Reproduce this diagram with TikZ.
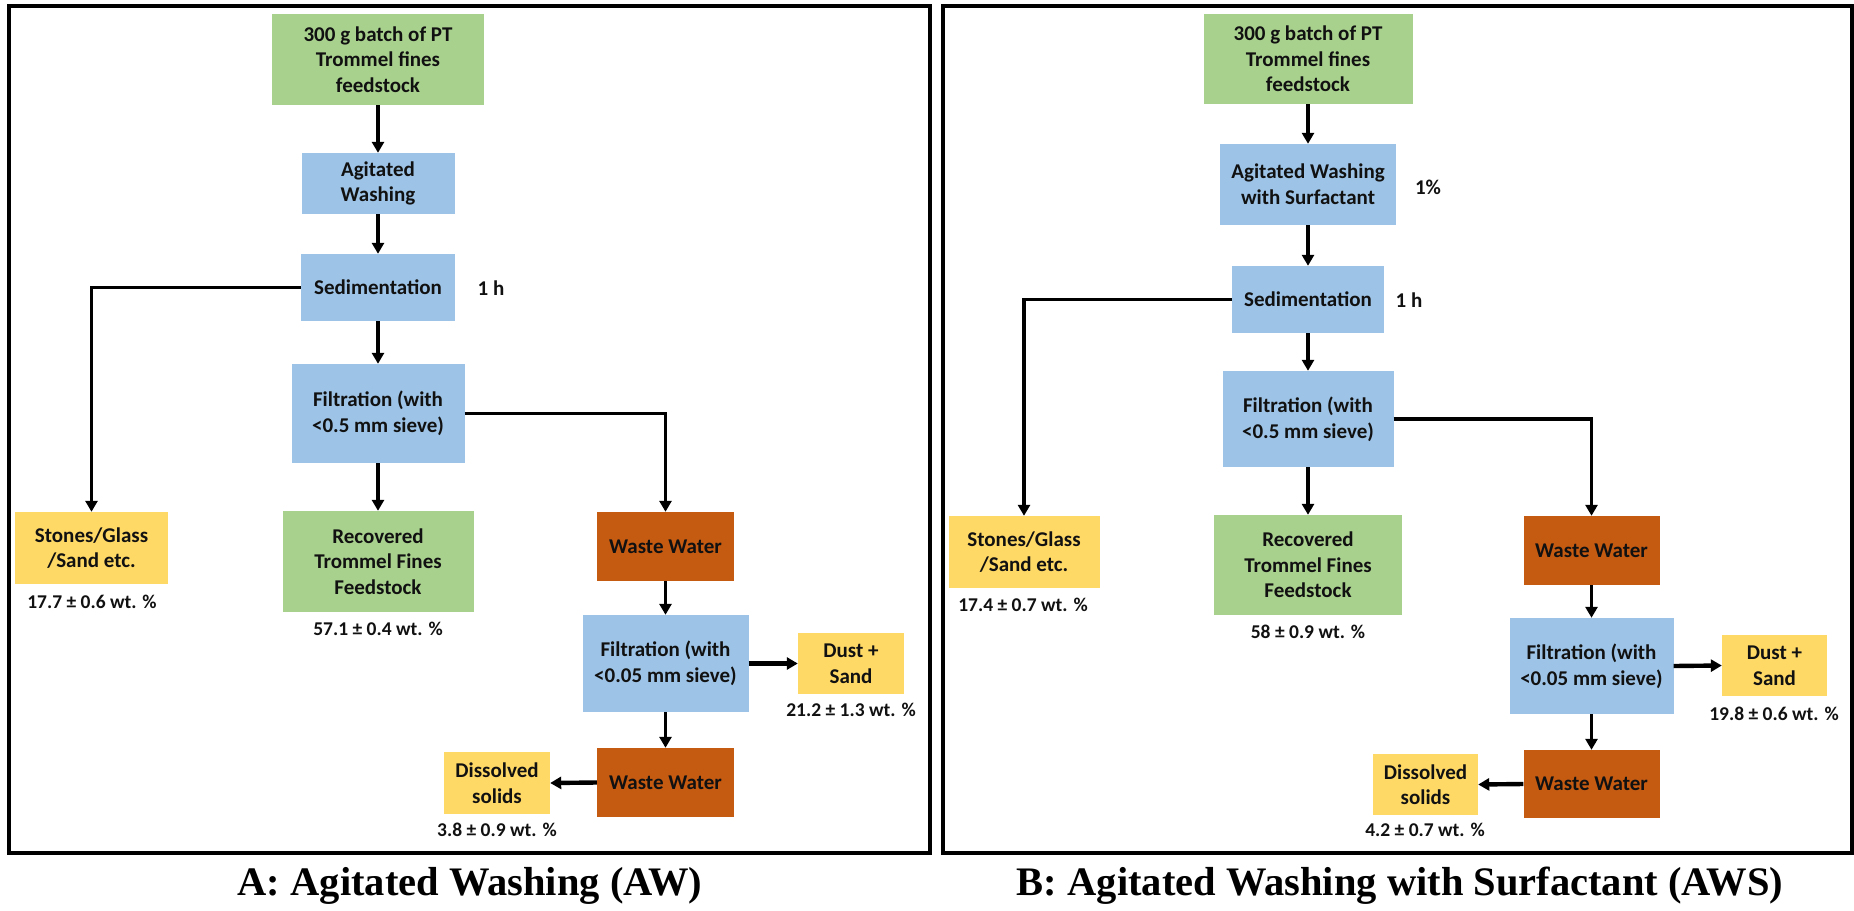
\documentclass[tikz,border=0pt]{standalone}
\usepackage{fontspec}
\setmainfont{Carlito}
\newfontfamily\titlefont{Liberation Serif}
\usetikzlibrary{arrows.meta}
\definecolor{cgreen}{HTML}{A9D18E}
\definecolor{cblue}{HTML}{9DC3E6}
\definecolor{cyellow}{HTML}{FFD966}
\definecolor{corange}{HTML}{C55A11}
\definecolor{ctext}{HTML}{111111}
\begin{document}
\begin{tikzpicture}[x=1pt,y=-1pt,
  box/.style={inner sep=0pt, align=center, text=ctext,
    font=\bfseries\fontsize{21}{25.6}\selectfont},
  sz/.style 2 args={minimum width=#1pt, minimum height=#2pt},
  gbox/.style={box, fill=cgreen},
  bbox/.style={box, fill=cblue},
  ybox/.style={box, fill=cyellow},
  obox/.style={box, fill=corange},
  wt/.style={inner sep=0pt, text=ctext, font=\bfseries\fontsize{19.5}{23}\selectfont},
  note/.style={inner sep=0pt, text=ctext, font=\bfseries\fontsize{21}{25}\selectfont},
  ttl/.style={inner sep=0pt, font=\titlefont\bfseries\fontsize{40.5}{48}\selectfont},
  arr/.style={line width=3.6pt, line join=miter, -{Triangle[length=11pt,width=12pt]}},
  harr/.style={arr, line width=4.4pt},
  frame/.style={line width=3.5pt}
]
\useasboundingbox (0,0) rectangle (1854,910);

% ---------- Panel A ----------
\draw[frame] (9,6) rectangle (930,853);
\node[gbox, sz={212}{91}] (gA) at (378,59.5) {300 g batch of PT\\Trommel fines\\feedstock};
\node[bbox, sz={153}{61}] (awA) at (378,183.5) {Agitated\\Washing};
\node[bbox, sz={154}{67}] (sedA) at (378,287.5) {Sedimentation};
\node[note] (hA) at (491,288) {1 h};
\node[bbox, sz={173}{99}] (filA) at (378,413.5) {Filtration (with\\<0.5 mm sieve)};
\node[ybox, sz={153}{72}] (stA) at (91.5,548) {Stones/Glass\\/Sand etc.};
\node[wt] (stAw) at (92,602) {17.7 ± 0.6 wt. \%};
\node[gbox, sz={191}{101}] (recA) at (378,561.5) {Recovered\\Trommel Fines\\Feedstock};
\node[wt] (recAw) at (378,629) {57.1 ± 0.4 wt. \%};
\node[obox, sz={137}{69}] (ww1A) at (665.5,546.5) {Waste Water};
\node[bbox, sz={166}{97}] (fil2A) at (665.5,663.5) {Filtration (with\\<0.05 mm sieve)};
\node[ybox, sz={106}{61}] (dustA) at (851,663.5) {Dust +\\Sand};
\node[wt] (dustAw) at (851,710) {21.2 ± 1.3 wt. \%};
\node[obox, sz={137}{69}] (ww2A) at (665.5,782.5) {Waste Water};
\node[ybox, sz={106}{62}] (disA) at (497,783) {Dissolved\\solids};
\node[wt] (disAw) at (497,830) {3.8 ± 0.9 wt. \%};
\node[ttl] (tA) at (470,886) {A: Agitated Washing (AW)};

\draw[arr] (gA) -- (awA);
\draw[arr] (awA) -- (sedA);
\draw[arr] (sedA) -- (filA);
\draw[arr] (sedA.west) -| (stA.north);
\draw[arr] (filA) -- (recA);
\draw[arr] (filA.east) -| (ww1A.north);
\draw[arr] (ww1A) -- (fil2A);
\draw[harr] (fil2A.east) -- (dustA.west);
\draw[arr] (fil2A) -- (ww2A);
\draw[harr] (ww2A.west) -- (disA.east);

% ---------- Panel B ----------
\draw[frame] (943,6) rectangle (1852,853);
\node[gbox, sz={209}{90}] (gB) at (1308,59) {300 g batch of PT\\Trommel fines\\feedstock};
\node[bbox, sz={176}{81}] (awB) at (1308,184.5) {Agitated Washing\\with Surfactant};
\node[note] (pB) at (1428,187) {1\%};
\node[bbox, sz={152}{67}] (sedB) at (1308,299.5) {Sedimentation};
\node[note] (hB) at (1409,300) {1 h};
\node[bbox, sz={171}{96}] (filB) at (1308,419) {Filtration (with\\<0.5 mm sieve)};
\node[ybox, sz={151}{72}] (stB) at (1024,552) {Stones/Glass\\/Sand etc.};
\node[wt] (stBw) at (1023,605) {17.4 ± 0.7 wt. \%};
\node[gbox, sz={188}{100}] (recB) at (1308,565) {Recovered\\Trommel Fines\\Feedstock};
\node[wt] (recBw) at (1308,632) {58 ± 0.9 wt. \%};
\node[obox, sz={136}{69}] (ww1B) at (1591.5,550.5) {Waste Water};
\node[bbox, sz={164}{96}] (fil2B) at (1591.5,666) {Filtration (with\\<0.05 mm sieve)};
\node[ybox, sz={105}{61}] (dustB) at (1774.5,665.5) {Dust +\\Sand};
\node[wt] (dustBw) at (1774,714) {19.8 ± 0.6 wt. \%};
\node[obox, sz={136}{68}] (ww2B) at (1591.5,784) {Waste Water};
\node[ybox, sz={105}{61}] (disB) at (1425.5,784.5) {Dissolved\\solids};
\node[wt] (disBw) at (1425,830) {4.2 ± 0.7 wt. \%};
\node[ttl] (tB) at (1400,886) {B: Agitated Washing with Surfactant (AWS)};

\draw[arr] (gB) -- (awB);
\draw[arr] (awB) -- (sedB);
\draw[arr] (sedB) -- (filB);
\draw[arr] (sedB.west) -| (stB.north);
\draw[arr] (filB) -- (recB);
\draw[arr] (filB.east) -| (ww1B.north);
\draw[arr] (ww1B) -- (fil2B);
\draw[harr] (fil2B.east) -- (dustB.west);
\draw[arr] (fil2B) -- (ww2B);
\draw[harr] (ww2B.west) -- (disB.east);
\end{tikzpicture}
\end{document}
